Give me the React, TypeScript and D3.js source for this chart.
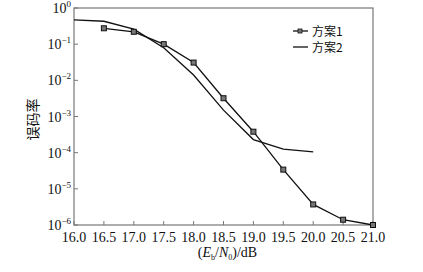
import React from "react";
import * as d3 from "d3";

const xTicks = [16.0, 16.5, 17.0, 17.5, 18.0, 18.5, 19.0, 19.5, 20.0, 20.5, 21.0];
const yExponents = [0, -1, -2, -3, -4, -5, -6];

const s1x = [16.5, 17.0, 17.5, 18.0, 18.5, 19.0, 19.5, 20.0, 20.5, 21.0];
const s1y = [0.275, 0.22, 0.1, 0.031, 0.0032, 0.00038, 3.4e-5, 3.7e-6, 1.4e-6, 1.0e-6];

const s2x = [16.0, 16.5, 17.0, 17.5, 18.0, 18.5, 19.0, 19.5, 20.0];
const s2y = [0.47, 0.43, 0.26, 0.08, 0.014, 0.0015, 0.00023, 0.000125, 0.000105];

const legendLabels = ["方案1", "方案2"];

const W = 423;
const H = 272;
const M = { left: 74, right: 373, top: 8, bottom: 225 };

export default function App() {
  const x = d3.scaleLinear().domain([16, 21]).range([M.left, M.right]);
  const y = d3.scaleLog().domain([1e-6, 1]).range([M.bottom, M.top]);
  const line = d3
    .line<[number, number]>()
    .x((d) => x(d[0]))
    .y((d) => y(d[1]));
  const d1 = line(s1x.map((v, i) => [v, s1y[i]]) as [number, number][]) || "";
  const d2 = line(s2x.map((v, i) => [v, s2y[i]]) as [number, number][]) || "";
  const font = "'Liberation Serif', 'Times New Roman', serif";
  const axisColor = "#777";
  return (
    <svg
      width={W}
      height={H}
      style={{ position: "absolute", left: 0, top: 0, background: "#fff" }}
      fontFamily={font}
    >
      <rect x={0} y={0} width={W} height={H} fill="#fff" />
      <rect
        x={M.left}
        y={M.top}
        width={M.right - M.left}
        height={M.bottom - M.top}
        fill="none"
        stroke={axisColor}
        strokeWidth={1.2}
      />
      {xTicks.map((t) => (
        <g key={t}>
          <line x1={x(t)} x2={x(t)} y1={M.bottom} y2={M.bottom - 4} stroke={axisColor} strokeWidth={1} />
          <text x={x(t)} y={M.bottom + 17} fontSize={14} textAnchor="middle" fill="#111">
            {t.toFixed(1)}
          </text>
        </g>
      ))}
      {yExponents.map((e) => (
        <g key={e}>
          <line x1={M.left} x2={M.left + 4} y1={y(Math.pow(10, e))} y2={y(Math.pow(10, e))} stroke={axisColor} strokeWidth={1} />
          <text x={M.left - 3} y={y(Math.pow(10, e)) + 5} fontSize={14} textAnchor="end" fill="#111">
            10
            <tspan fontSize={9} dy={-6}>
              {e === 0 ? "0" : "−" + Math.abs(e)}
            </tspan>
          </text>
        </g>
      ))}
      <text
        transform={`translate(38,${(M.top + M.bottom) / 2 + 3}) rotate(-90)`}
        fontSize={14}
        textAnchor="middle"
        fontFamily="'Noto Sans CJK SC', sans-serif"
        fill="#111"
      >
        误码率
      </text>
      <text x={(M.left + M.right) / 2 + 4} y={257} fontSize={14} textAnchor="middle" fill="#111">
        (<tspan fontStyle="italic">E</tspan>
        <tspan fontSize={8} dy={3}>b</tspan>
        <tspan dy={-3}>/</tspan>
        <tspan fontStyle="italic">N</tspan>
        <tspan fontSize={8} dy={3}>0</tspan>
        <tspan dy={-3}>)/dB</tspan>
      </text>
      <path d={d2} fill="none" stroke="#111" strokeWidth={1.3} />
      <path d={d1} fill="none" stroke="#111" strokeWidth={1.3} />
      {s1x.map((v, i) => (
        <rect
          key={v}
          x={x(v) - 2.5}
          y={y(s1y[i]) - 2.5}
          width={5}
          height={5}
          fill="#777"
          stroke="#111"
          strokeWidth={1}
        />
      ))}
      <g fontFamily="'Noto Sans CJK SC', serif" fontSize={12} fill="#111">
        <line x1={293} x2={308} y1={31} y2={31} stroke="#111" strokeWidth={1.3} />
        <rect x={298} y={29} width={4} height={4} fill="#777" stroke="#111" strokeWidth={0.8} />
        <text x={312} y={35.5}>{legendLabels[0]}</text>
        <line x1={293} x2={308} y1={47} y2={47} stroke="#111" strokeWidth={1.3} />
        <text x={312} y={51.5}>{legendLabels[1]}</text>
      </g>
    </svg>
  );
}
